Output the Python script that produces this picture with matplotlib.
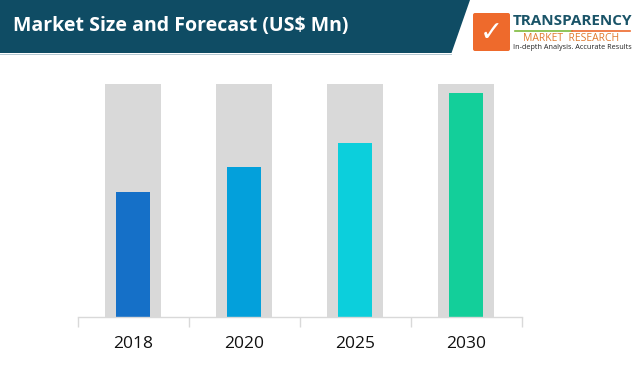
import matplotlib
matplotlib.use("Agg")
import matplotlib.pyplot as plt
from matplotlib.patches import Polygon, FancyBboxPatch

years = ["2018", "2020", "2025", "2030"]
values = [53.5, 64.2, 74.8, 96.3]
background = [100, 100, 100, 100]
colors = ["#1570C8", "#03A0DB", "#0CCFDC", "#13CF9A"]

W, H = 640, 370
fig = plt.figure(figsize=(W / 100, H / 100), dpi=100)
fig.patch.set_facecolor("white")

# header band
ov = fig.add_axes([0, 0, 1, 1], zorder=0)
ov.set_xlim(0, W)
ov.set_ylim(H, 0)
ov.axis("off")
ov.add_patch(Polygon([[0, 0], [470, 0], [451.5, 53], [0, 53]], closed=True,
                     facecolor="#0F4C64", edgecolor="none"))
ov.plot([0, 451], [53.8, 53.8], color="#B5C9D2", lw=0.7)
ov.text(13, 25.5, "Market Size and Forecast (US$ Mn)", color="white",
        fontsize=14, fontweight="bold", family="Open Sans", va="center", ha="left")

# logo
ov.add_patch(FancyBboxPatch((473, 13), 37, 38, boxstyle="round,pad=0,rounding_size=2",
                            facecolor="#EE6A2C", edgecolor="none"))
ov.text(491.5, 33, "✓", color="white", fontsize=20, fontweight="bold",
        family="DejaVu Sans", ha="center", va="center")
ov.text(513, 21, "TRANSPARENCY", color="#1A5468", fontsize=11, fontweight="bold",
        family="Open Sans", ha="left", va="center")
ov.plot([515, 572], [31, 31], color="#7DBA3C", lw=1.2)
ov.plot([572, 630], [31, 31], color="#EE6A2C", lw=1.2)
ov.text(571, 38.5, "MARKET  RESEARCH", color="#E07A2E", fontsize=7.5,
        family="Open Sans", ha="center", va="center")
ov.text(513, 47.5, "In-depth Analysis. Accurate Results", color="#222222", fontsize=5.2,
        family="Open Sans", ha="left", va="center")

# chart
left, right = 77.5, 521.5
bottom_px, top_px = 317, 84
ax = fig.add_axes([left / W, (H - bottom_px) / H, (right - left) / W, (bottom_px - top_px) / H],
                  zorder=1)
ax.patch.set_alpha(0)
x = list(range(len(years)))
ax.bar(x, background, width=0.51, color="#D9D9D9", zorder=1)
ax.bar(x, values, width=0.315, color=colors, zorder=2)
ax.set_xlim(-0.5, len(years) - 0.5)
ax.set_ylim(0, 100)
for s in ["top", "right", "left"]:
    ax.spines[s].set_visible(False)
ax.spines["bottom"].set_color("#D9D9D9")
ax.spines["bottom"].set_linewidth(1.0)
ax.set_yticks([])
ax.set_xticks(x)
ax.set_xticklabels(years, fontsize=12.5, family="Open Sans", color="#111111")
ax.tick_params(axis="x", which="major", length=0, pad=14)
ax.set_xticks([i - 0.5 for i in range(len(years) + 1)], minor=True)
ax.tick_params(axis="x", which="minor", length=7, color="#D9D9D9", width=1.0)

fig.savefig("out.png", dpi=100, facecolor="white")
